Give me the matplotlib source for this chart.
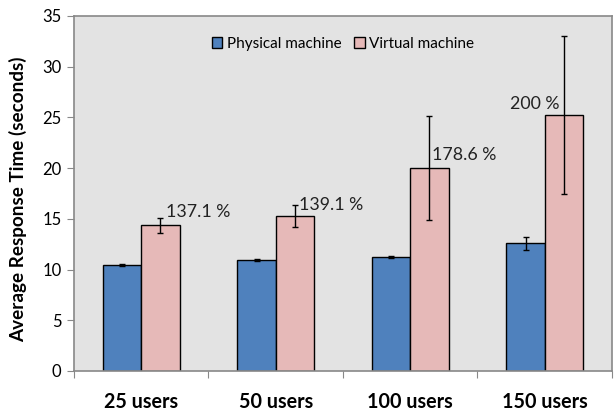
import numpy as np
import matplotlib.pyplot as plt

plt.rcParams['font.family'] = ['Lato', 'DejaVu Sans']

# Data
categories = ['25 users', '50 users', '100 users', '150 users']
physical = [10.45, 10.95, 11.2, 12.6]
physical_err = [0.1, 0.12, 0.1, 0.65]
virtual = [14.35, 15.3, 20.0, 25.2]
virtual_err = [0.7, 1.1, 5.1, 7.8]
pct_labels = ['137.1 %', '139.1 %', '178.6 %', '200 %']

fig = plt.figure(figsize=(6.16, 4.16), dpi=100)
ax = fig.add_axes([0.1201, 0.1082, 0.8734, 0.8534])
ax.set_facecolor('#E3E3E3')

x = np.arange(len(categories))
w = 0.285
ekw = dict(ecolor='black', elinewidth=1, capsize=2.5, capthick=1)
ax.bar(x - w / 2, physical, w, yerr=physical_err, color='#4F81BD',
       edgecolor='black', linewidth=1, label='Physical machine', error_kw=ekw, zorder=2)
ax.bar(x + w / 2, virtual, w, yerr=virtual_err, color='#E6B9B8',
       edgecolor='black', linewidth=1, label='Virtual machine', error_kw=ekw, zorder=2)

# percentage labels next to the virtual bars
label_pos = [(0.04, 15.7, 'left'), (0.03, 16.4, 'left'), (0.02, 21.3, 'left'), (-0.03, 26.3, 'right')]
for i, (lab, (dx, y, ha)) in enumerate(zip(pct_labels, label_pos)):
    ax.text(i + w / 2 + dx, y, lab, ha=ha, va='center', fontsize=12.8, color='#222222', zorder=3)

ax.set_xlim(-0.5, 3.5)
ax.set_ylim(0, 35)
ax.set_yticks(range(0, 36, 5))
ax.set_xticks(np.arange(-0.5, 4, 1))
ax.set_xticklabels([])
ax.tick_params(axis='both', direction='out', length=5, color='#888888', labelsize=12)
ax.tick_params(axis='y', pad=4)
for i, c in enumerate(categories):
    ax.text(i, -3.05, c, ha='center', va='center', fontsize=14.2, fontweight='bold',
            transform=ax.transData)
for s in ax.spines.values():
    s.set_color('#888888')
    s.set_linewidth(1.2)

ax.set_ylabel('Average Response Time (seconds)', fontsize=13.6, fontweight='bold', labelpad=8)
ax.yaxis.set_label_coords(-0.088, 0.485)

leg = ax.legend(loc='upper center', bbox_to_anchor=(0.5, 0.98), ncol=2, frameon=False,
                fontsize=11, handlelength=0.7, handleheight=0.7, handletextpad=0.3,
                columnspacing=0.8)

fig.savefig('out.png', dpi=100)
